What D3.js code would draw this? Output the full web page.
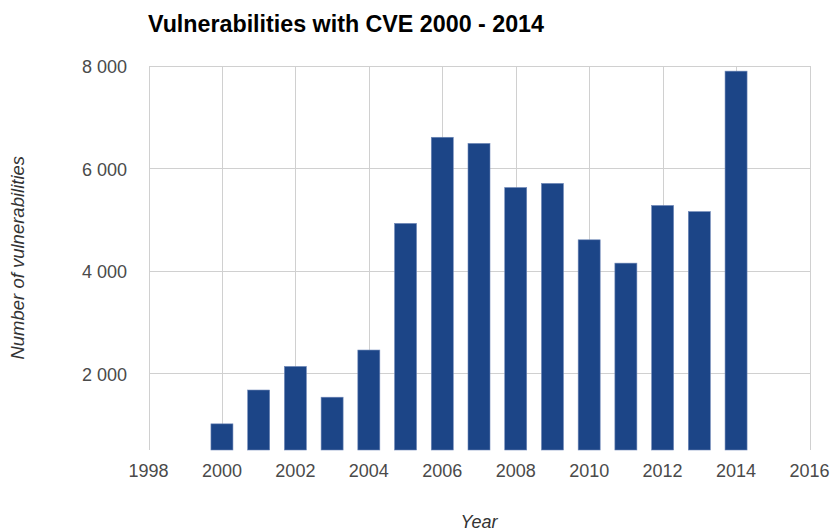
<!DOCTYPE html>
<html>
<head>
<meta charset="utf-8">
<script src="https://cdn.jsdelivr.net/npm/d3@7"></script>
<style>
  html, body { margin: 0; padding: 0; background: #fff; }
  svg { display: block; font-family: "Liberation Sans", Arial, sans-serif; }
</style>
</head>
<body>
<svg id="chart" width="830" height="531"></svg>
<script>
// Yearly count of published CVE vulnerabilities
const years = [2000, 2001, 2002, 2003, 2004, 2005, 2006, 2007, 2008, 2009, 2010, 2011, 2012, 2013, 2014];
const counts = [1010, 1670, 2130, 1530, 2450, 4920, 6600, 6480, 5620, 5700, 4600, 4145, 5270, 5150, 7890];
const xTicks = [1998, 2000, 2002, 2004, 2006, 2008, 2010, 2012, 2014, 2016];
const yTicks = [2000, 4000, 6000, 8000];

const svg = d3.select("#chart");
const plot = { left: 148.5, right: 809.5, top: 65.5, bottom: 450 };

const x = d3.scaleLinear().domain([1998, 2016]).range([plot.left, plot.right]);
const y = d3.scaleLinear().domain([500, 8000]).range([plot.bottom, plot.top]);

const fmt = d3.formatLocale({ decimal: ".", thousands: "\u00a0", grouping: [3], currency: ["", ""] }).format(",d");

// grid
const grid = svg.append("g").attr("stroke", "#d0d0d0").attr("stroke-width", 1.2).attr("shape-rendering", "crispEdges");
grid.selectAll("line.v").data(xTicks).join("line")
  .attr("class", "v")
  .attr("x1", d => Math.round(x(d)) + 0.5).attr("x2", d => Math.round(x(d)) + 0.5)
  .attr("y1", plot.top).attr("y2", plot.bottom);
grid.selectAll("line.h").data(yTicks).join("line")
  .attr("class", "h")
  .attr("x1", plot.left).attr("x2", plot.right)
  .attr("y1", d => Math.round(y(d)) + 0.5).attr("y2", d => Math.round(y(d)) + 0.5);

// bars
const barW = 22;
svg.append("g").selectAll("rect").data(years).join("rect")
  .attr("x", (d) => x(d) - barW / 2)
  .attr("width", barW)
  .attr("y", (d, i) => y(counts[i]))
  .attr("height", (d, i) => plot.bottom - y(counts[i]))
  .attr("fill", "#1c4587")
  .attr("stroke", "#6f88b8")
  .attr("stroke-width", 0.6);

// y tick labels
svg.append("g").selectAll("text").data(yTicks).join("text")
  .attr("x", 127).attr("y", d => y(d) + 7.5)
  .attr("text-anchor", "end")
  .attr("font-size", 18).attr("fill", "#4a4a4a")
  .text(d => fmt(d));

// x tick labels
svg.append("g").selectAll("text").data(xTicks).join("text")
  .attr("x", d => x(d)).attr("y", 477)
  .attr("text-anchor", "middle")
  .attr("font-size", 18).attr("fill", "#4a4a4a")
  .text(d => d);

// title
svg.append("text")
  .attr("x", 148).attr("y", 31.5)
  .attr("font-size", 23).attr("font-weight", "bold").attr("fill", "#000")
  .attr("textLength", 396).attr("lengthAdjust", "spacingAndGlyphs")
  .text("Vulnerabilities with CVE 2000 - 2014");

// axis titles
svg.append("text")
  .attr("x", (plot.left + plot.right) / 2).attr("y", 528)
  .attr("text-anchor", "middle")
  .attr("font-size", 18).attr("font-style", "italic").attr("fill", "#333")
  .text("Year");

svg.append("text")
  .attr("transform", `translate(24,${(plot.top + plot.bottom) / 2}) rotate(-90)`)
  .attr("text-anchor", "middle")
  .attr("font-size", 18.5).attr("font-style", "italic").attr("fill", "#333")
  .text("Number of vulnerabilities");
</script>
</body>
</html>
